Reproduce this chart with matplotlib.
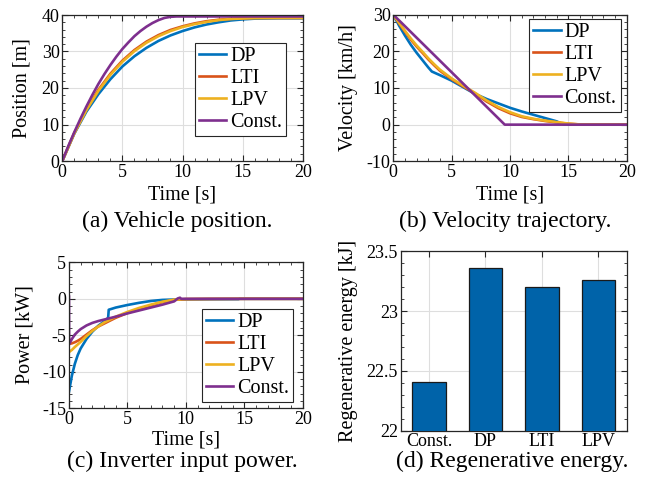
import matplotlib
matplotlib.use("Agg")
import matplotlib.pyplot as plt
from matplotlib.ticker import MultipleLocator
import numpy as np

plt.rcParams['font.family'] = ['Liberation Serif', 'DejaVu Serif']
plt.rcParams['axes.unicode_minus'] = False
plt.rcParams['mathtext.fontset'] = 'stix'

# ---------------- data ----------------
series = ["DP", "LTI", "LPV", "Const."]
colors = ["#0072BD", "#D95319", "#EDB120", "#7E2F8E"]

# (a) position [m]
t_pos = [0, 1, 2, 3, 4, 5, 6, 7, 8, 9, 10, 11, 12, 13, 14, 15, 16, 18, 20]
pos_dp = [0, 7.5, 13.5, 18.3, 22.4, 25.9, 28.7, 31.0, 32.9, 34.4, 35.6, 36.6, 37.4, 38.0, 38.5, 38.8, 39.0, 39.1, 39.1]
pos_lti = [0, 7.7, 14.1, 19.5, 23.9, 27.5, 30.4, 32.7, 34.5, 35.9, 36.9, 37.7, 38.3, 38.7, 38.95, 39.1, 39.2, 39.2, 39.2]
pos_lpv = [0, 7.6, 13.9, 19.2, 23.6, 27.2, 30.1, 32.4, 34.2, 35.6, 36.7, 37.5, 38.1, 38.6, 38.9, 39.05, 39.15, 39.2, 39.2]
t_pos_c = [0, 0.5, 1, 1.5, 2, 2.5, 3, 3.5, 4, 4.5, 5, 5.5, 6, 6.5, 7, 7.5, 8, 8.5, 9, 9.5, 20]
pos_const = [0, 4.1, 7.9, 11.5, 14.9, 18.1, 21.1, 23.8, 26.3, 28.6, 30.7, 32.5, 34.2, 35.6, 36.8, 37.8, 38.6, 39.2, 39.5, 39.6, 39.6]

# (b) velocity [km/h]
t_v_dp = [0, 0.5, 1, 1.5, 2, 2.5, 3, 3.3, 4, 5, 6, 7, 8, 9, 10, 11, 12, 13, 14, 14.6, 20]
v_dp = [30, 27.0, 24.3, 21.8, 19.6, 17.6, 15.6, 14.5, 13.5, 12.0, 10.2, 8.4, 7.0, 5.8, 4.6, 3.6, 2.7, 1.8, 0.9, 0, 0]
t_v = [0, 0.5, 1, 1.5, 2, 2.5, 3, 3.5, 4, 5, 6, 7, 8, 9, 10, 11, 12, 13, 14, 15, 16, 20]
v_lti = [30, 27.6, 25.4, 23.2, 21.3, 19.6, 17.8, 16.2, 14.7, 12.4, 10.4, 8.5, 6.3, 4.5, 3.1, 2.1, 1.5, 1.0, 0.6, 0.25, 0.05, 0]
v_lpv = [30, 27.8, 25.6, 23.5, 21.6, 19.9, 18.1, 16.5, 15.0, 12.6, 10.6, 8.7, 6.6, 4.8, 3.4, 2.3, 1.6, 1.1, 0.7, 0.3, 0.05, 0]
t_v_c = [0, 9.55, 20]
v_const = [30, 0, 0]

# (c) inverter input power [kW]
t_p_dp = [0, 0.25, 0.5, 0.75, 1, 1.5, 2, 2.5, 3, 3.35, 3.4, 4, 5, 6, 7, 8, 9, 10, 12, 14.5, 14.6, 20]
p_dp = [-12.7, -10.5, -8.9, -7.7, -6.8, -5.5, -4.5, -3.7, -3.1, -2.6, -1.5, -1.2, -0.85, -0.55, -0.3, -0.15, -0.1, -0.08, -0.06, -0.05, 0, 0]
t_p = [0, 0.25, 0.5, 0.75, 1, 1.5, 2, 2.5, 3, 4, 5, 6, 7, 8, 9, 10, 12, 15, 20]
p_lti = [-6.2, -6.1, -5.95, -5.75, -5.5, -4.9, -4.3, -3.8, -3.4, -2.6, -1.95, -1.4, -0.9, -0.45, -0.15, -0.05, -0.02, 0, 0]
p_lpv = [-7.3, -7.0, -6.6, -6.25, -5.9, -5.1, -4.4, -3.8, -3.25, -2.45, -1.8, -1.25, -0.8, -0.4, -0.12, -0.04, -0.02, 0, 0]
t_p_c = [0, 0.01, 0.25, 0.5, 0.75, 1, 1.5, 2, 2.5, 3, 4, 5, 6, 7, 8, 9, 9.3, 9.5, 9.6, 20]
p_const = [0.3, -6.2, -5.5, -4.9, -4.5, -4.15, -3.65, -3.3, -3.05, -2.85, -2.45, -2.0, -1.6, -1.2, -0.8, -0.35, 0.05, 0.15, 0, 0]

# (d) regenerative energy [kJ]
bar_labels = ["Const.", "DP", "LTI", "LPV"]
bar_values = [22.41, 23.36, 23.20, 23.26]

# ---------------- figure ----------------
W, H = 652, 484
fig = plt.figure(figsize=(W / 100, H / 100), dpi=100)

def ax_px(l, r, t, b):
    return fig.add_axes([l / W, 1 - b / H, (r - l) / W, (b - t) / H])

TICK = 13
LAB = 14.5
CAP = 17
LW = 1.9
GRID = "#DEDEDE"
AX = "#262626"

def style(ax, xmaj, xmin, ymaj, ymin):
    if xmaj:
        ax.xaxis.set_major_locator(MultipleLocator(xmaj))
    if xmin:
        ax.xaxis.set_minor_locator(MultipleLocator(xmin))
    ax.yaxis.set_major_locator(MultipleLocator(ymaj))
    ax.yaxis.set_minor_locator(MultipleLocator(ymin))
    ax.tick_params(which="both", direction="in", top=True, right=True, colors=AX, labelcolor="black")
    ax.tick_params(which="major", length=4, width=0.8, labelsize=TICK, pad=2)
    ax.tick_params(which="minor", length=2.5, width=0.6)
    ax.grid(True, which="major", color=GRID, lw=0.8)
    ax.set_axisbelow(True)
    for s in ax.spines.values():
        s.set_color(AX)
        s.set_linewidth(0.9)

def legend(ax, x, y):
    lg = ax.legend(loc="upper left", bbox_to_anchor=(x / W, 1 - y / H), bbox_transform=fig.transFigure,
                   fontsize=LAB, handlelength=1.35, handletextpad=0.2, borderpad=0.2,
                   labelspacing=0.14, borderaxespad=0, fancybox=False, framealpha=1)
    lg.get_frame().set_edgecolor("#262626")
    lg.get_frame().set_linewidth(0.8)

# (a)
ax1 = ax_px(62.3, 302.7, 15, 161)
ax1.plot(t_pos, pos_dp, color=colors[0], lw=LW, label=series[0])
ax1.plot(t_pos, pos_lti, color=colors[1], lw=LW, label=series[1])
ax1.plot(t_pos, pos_lpv, color=colors[2], lw=LW, label=series[2])
ax1.plot(t_pos_c, pos_const, color=colors[3], lw=LW, label=series[3])
ax1.set_xlim(0, 20); ax1.set_ylim(0, 40)
style(ax1, 5, 1, 10, 2)
legend(ax1, 195, 42.7)

# (b)
ax2 = ax_px(393.3, 626.7, 14.7, 161.3)
ax2.plot(t_v_dp, v_dp, color=colors[0], lw=LW, label=series[0])
ax2.plot(t_v, v_lti, color=colors[1], lw=LW, label=series[1])
ax2.plot(t_v, v_lpv, color=colors[2], lw=LW, label=series[2])
ax2.plot(t_v_c, v_const, color=colors[3], lw=LW, label=series[3])
ax2.set_xlim(0, 20); ax2.set_ylim(-10, 30)
style(ax2, 5, 1, 10, 2)
legend(ax2, 529.3, 19)

# (c)
ax3 = ax_px(69, 302.7, 262.3, 408.3)
ax3.plot(t_p_dp, p_dp, color=colors[0], lw=LW, label=series[0])
ax3.plot(t_p, p_lti, color=colors[1], lw=LW, label=series[1])
ax3.plot(t_p, p_lpv, color=colors[2], lw=LW, label=series[2])
ax3.plot(t_p_c, p_const, color=colors[3], lw=LW, label=series[3])
ax3.set_xlim(0, 20); ax3.set_ylim(-15, 5)
style(ax3, 5, 1, 5, 1)
legend(ax3, 201.7, 309)

# (d)
ax4 = ax_px(400.7, 626.7, 251.3, 430.7)
xpos = np.arange(1, len(bar_labels) + 1)
ax4.bar(xpos, bar_values, width=0.6, color="#0063A9", edgecolor="#1a1a1a", lw=0.9, zorder=3)
ax4.set_xlim(0.5, 4.5); ax4.set_ylim(22, 23.5)
ax4.set_xticks(xpos)
ax4.set_xticklabels(bar_labels)
style(ax4, None, None, 0.5, 0.1)
ax4.tick_params(axis="x", which="minor", bottom=False, top=False)
ax4.set_yticks([22, 22.5, 23, 23.5])
ax4.set_yticklabels(["22", "22.5", "23", "23.5"])

# axis labels & captions (pixel positions)
def ftext(x, y, s, size=LAB, **kw):
    fig.text(x / W, 1 - y / H, s, ha="center", va="center", fontsize=size, **kw)

ftext(182.5, 195, "Time [s]")
ftext(510, 195, "Time [s]")
ftext(185.8, 440, "Time [s]")
ftext(21.7, 88, "Position [m]", rotation=90)
ftext(348.3, 88, "Velocity [km/h]", rotation=90)
ftext(25, 335, "Power [kW]", rotation=90)
ftext(348.3, 341, "Regenerative energy [kJ]", rotation=90)

ftext(176.7, 221.7, "(a) Vehicle position.", size=CAP)
ftext(505, 221.7, "(b) Velocity trajectory.", size=CAP)
ftext(182.5, 461.7, "(c) Inverter input power.", size=CAP)
ftext(511.7, 461.7, "(d) Regenerative energy.", size=CAP)

fig.savefig("out.png", dpi=100)
